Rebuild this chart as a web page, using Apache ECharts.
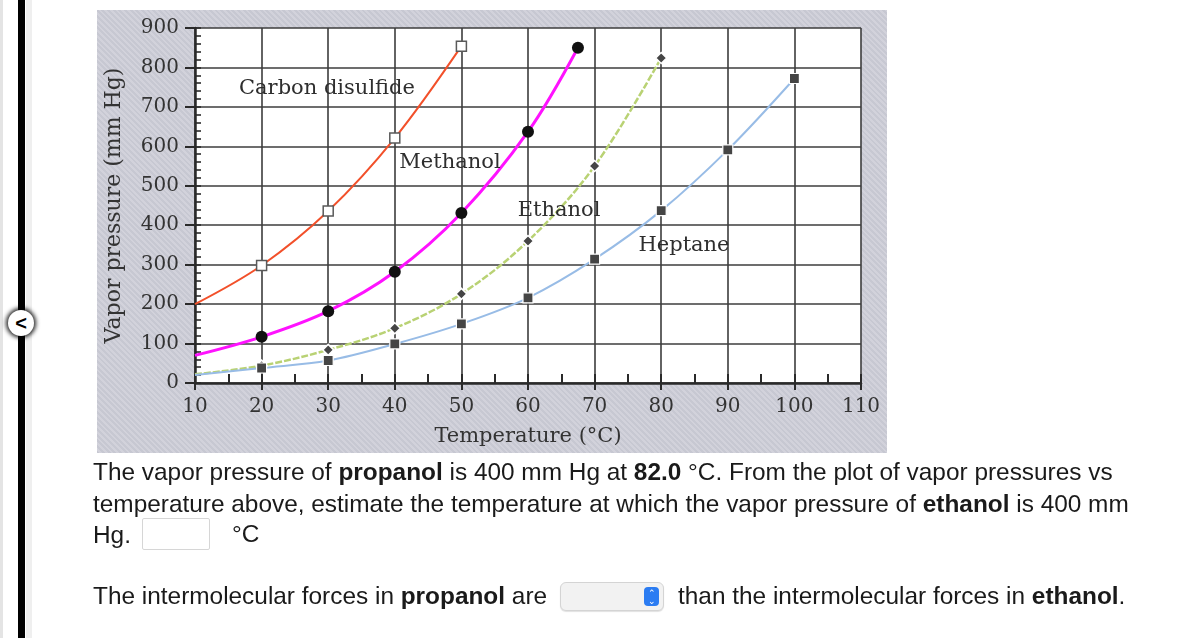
<!DOCTYPE html>
<html>
<head>
<meta charset="utf-8">
<script src="https://cdn.jsdelivr.net/npm/echarts@6/dist/echarts.min.js"></script>
<style>
  html, body { margin: 0; padding: 0; background: #fff; }
  body { width: 1200px; height: 638px; position: relative; overflow: hidden; font-family: "Liberation Sans", Arial, Helvetica, sans-serif; color: #1a1a1a; }
  #panel { position: absolute; left: 97px; top: 10px; width: 790px; height: 443px;
    background: repeating-linear-gradient(45deg, #c7c8d2 0px, #c7c8d2 2px, #d2d2db 2px, #d2d2db 4px); }
  #chart { position: absolute; left: 0; top: 0; width: 1200px; height: 638px; }
  .strip1 { position: absolute; left: 0; top: 0; width: 3px; height: 638px; background: #e4e4e4; }
  .bar { position: absolute; left: 18px; top: 0; width: 7px; height: 638px; background: #000; }
  .strip2 { position: absolute; left: 26px; top: 0; width: 6px; height: 638px; background: #efefef; }
  .circ { position: absolute; left: 8px; top: 310px; width: 26px; height: 26px; border-radius: 50%; background: #fff;
    box-shadow: 0 0 4px 2px rgba(0,0,0,0.85); text-align: center; line-height: 26px; font-weight: bold; font-size: 20px; color: #000; }
  .q { position: absolute; font-size: 24.4px; white-space: nowrap; line-height: 31.5px; }
  .q b { font-weight: bold; }
  .inp { position: absolute; left: 142px; top: 518px; width: 68px; height: 32px; border: 1px solid #d6d6d6; border-radius: 2px; background: #fff; box-sizing: border-box; }
  .sel { position: absolute; left: 560px; top: 582px; width: 104px; height: 29px; border: 1px solid #d4d4d4; border-radius: 6px; background: #f2f2f2; box-sizing: border-box; box-shadow: 0 1px 1px rgba(0,0,0,0.12); }
  .selbtn { position: absolute; right: 4px; top: 4px; width: 15px; height: 19px; border-radius: 4px; background: #2b7cf2; color: #fff; font-size: 9px; line-height: 8px; text-align: center; padding-top: 2px; box-sizing: border-box; }
</style>
</head>
<body>
<div class="strip1"></div>
<div class="bar"></div>
<div class="strip2"></div>
<div class="circ">&lt;</div>
<div id="panel"></div>
<div id="chart"></div>

<div class="q" style="left:93px; top:456px;">The vapor pressure of <b>propanol</b> is 400 mm Hg at <b>82.0</b> °C. From the plot of vapor pressures vs<br>temperature above, estimate the temperature at which the vapor pressure of <b>ethanol</b> is 400 mm<br>Hg.</div>
<div class="inp"></div>
<div class="q" style="left:232px; top:518px;">°C</div>
<div class="q" style="left:93px; top:580px;">The intermolecular forces in <b>propanol</b> are</div>
<div class="sel"><div class="selbtn">&#8963;<br>&#8964;</div></div>
<div class="q" style="left:678px; top:580px;">than the intermolecular forces in <b>ethanol</b>.</div>

<script>
// ---- data ----
const xTicks = [10, 20, 30, 40, 50, 60, 70, 80, 90, 100, 110];
const yTicks = [0, 100, 200, 300, 400, 500, 600, 700, 800, 900];

const seriesNames = ['Carbon disulfide', 'Methanol', 'Ethanol', 'Heptane'];

const csTemps = [10, 20, 30, 40, 50];
const csPressure = [200, 298, 436, 621, 854];

const meTemps = [10, 20, 30, 40, 50, 60, 67.5];
const mePressure = [70, 117, 182, 282, 431, 637, 850];

const etTemps = [10, 20, 30, 40, 50, 60, 70, 80];
const etPressure = [22, 44, 84, 139, 226, 360, 550, 824];

const hpTemps = [10, 20, 30, 40, 50, 60, 70, 80, 90, 100];
const hpPressure = [20, 38, 57, 99, 150, 216, 314, 437, 591, 772];

// the first point of every curve (at 10 °C) is drawn without a marker
const markerlessFirstPoint = true;

const xTitle = 'Temperature (°C)';
const yTitle = 'Vapor pressure (mm Hg)';

// ---- build ----
function pts(t, p) {
  return t.map((x, i) => {
    const item = { value: [x, p[i]] };
    if (i === 0 && markerlessFirstPoint) item.symbol = 'none';
    return item;
  });
}

const serif = '"DejaVu Serif", "Liberation Serif", serif';
const ink = '#333333';
const gridInk = '#3d3d3d';

const chart = echarts.init(document.getElementById('chart'), null, { renderer: 'canvas' });

const option = {
  animation: false,
  backgroundColor: 'transparent',
  grid: { left: 195, right: 339, top: 28, bottom: 255, show: true, backgroundColor: '#ffffff', borderWidth: 0 },
  xAxis: [
    {
      type: 'value', min: xTicks[0], max: xTicks[xTicks.length - 1], interval: 10, position: 'bottom',
      name: xTitle, nameLocation: 'middle', nameGap: 43,
      nameTextStyle: { fontFamily: serif, fontSize: 21, color: ink },
      axisLine: { show: true, lineStyle: { color: '#2a2a2a', width: 2.5 } },
      axisTick: { show: true, inside: false, length: 7, lineStyle: { color: '#2a2a2a', width: 2 } },
      axisLabel: { fontFamily: serif, fontSize: 20, color: ink, margin: 14 },
      splitLine: { show: true, lineStyle: { color: gridInk, width: 1.6 } }
    },
    {
      type: 'value', min: xTicks[0], max: xTicks[xTicks.length - 1], interval: 5, position: 'bottom', offset: 0,
      axisLine: { show: false },
      axisTick: { show: true, inside: true, length: 9, lineStyle: { color: '#2a2a2a', width: 2 } },
      axisLabel: { show: false },
      splitLine: { show: false }
    }
  ],
  yAxis: [
    {
      type: 'value', min: yTicks[0], max: yTicks[yTicks.length - 1], interval: 100, position: 'left',
      name: yTitle, nameLocation: 'middle', nameGap: 70, nameRotate: 90,
      nameTextStyle: { fontFamily: serif, fontSize: 22, color: ink },
      axisLine: { show: true, lineStyle: { color: '#2a2a2a', width: 2.5 } },
      axisTick: { show: true, inside: false, length: 10, lineStyle: { color: '#2a2a2a', width: 2 } },
      axisLabel: { fontFamily: serif, fontSize: 20, color: ink, margin: 16 },
      splitLine: { show: true, lineStyle: { color: gridInk, width: 1.6 } }
    },
    {
      type: 'value', min: yTicks[0], max: yTicks[yTicks.length - 1], interval: 20, position: 'left', offset: 0,
      axisLine: { show: false },
      axisTick: { show: true, inside: true, length: 6, lineStyle: { color: '#2a2a2a', width: 1.6 } },
      axisLabel: { show: false },
      splitLine: { show: false }
    }
  ],
  series: [
    {
      name: seriesNames[0], type: 'line', smooth: 0.35, data: pts(csTemps, csPressure),
      lineStyle: { color: '#f2502a', width: 2 },
      symbol: 'rect', symbolSize: 10, showAllSymbol: true,
      itemStyle: { color: '#ffffff', borderColor: '#5a5a5a', borderWidth: 1.5 }, z: 3
    },
    {
      name: seriesNames[1], type: 'line', smooth: 0.35, data: pts(meTemps, mePressure),
      lineStyle: { color: '#ff12ff', width: 3 },
      symbol: 'circle', symbolSize: 12, showAllSymbol: true,
      itemStyle: { color: '#111111', borderColor: '#111111', borderWidth: 0 }, z: 4
    },
    {
      name: seriesNames[2], type: 'line', smooth: 0.35, data: pts(etTemps, etPressure),
      lineStyle: { color: '#b9d274', width: 2.5, type: [7, 2] },
      symbol: 'diamond', symbolSize: 11, showAllSymbol: true,
      itemStyle: { color: '#454545', borderColor: '#ffffff', borderWidth: 1.5 }, z: 2
    },
    {
      name: seriesNames[3], type: 'line', smooth: 0.35, data: pts(hpTemps, hpPressure),
      lineStyle: { color: '#98bce6', width: 2 },
      symbol: 'rect', symbolSize: 10, showAllSymbol: true,
      itemStyle: { color: '#454545', borderColor: '#ffffff', borderWidth: 1.2 }, z: 2
    }
  ],
  graphic: [
    { type: 'text', x: 327, y: 89, style: { text: seriesNames[0], font: '21px ' + serif, fill: '#2e2e2e', align: 'center', verticalAlign: 'middle' }, z: 10 },
    { type: 'text', x: 450, y: 163, style: { text: seriesNames[1], font: '21px ' + serif, fill: '#2e2e2e', align: 'center', verticalAlign: 'middle' }, z: 10 },
    { type: 'text', x: 559, y: 211, style: { text: seriesNames[2], font: '21px ' + serif, fill: '#2e2e2e', align: 'center', verticalAlign: 'middle' }, z: 10 },
    { type: 'text', x: 684, y: 246, style: { text: seriesNames[3], font: '21px ' + serif, fill: '#2e2e2e', align: 'center', verticalAlign: 'middle' }, z: 10 }
  ]
};
chart.setOption(option);
</script>
</body>
</html>
